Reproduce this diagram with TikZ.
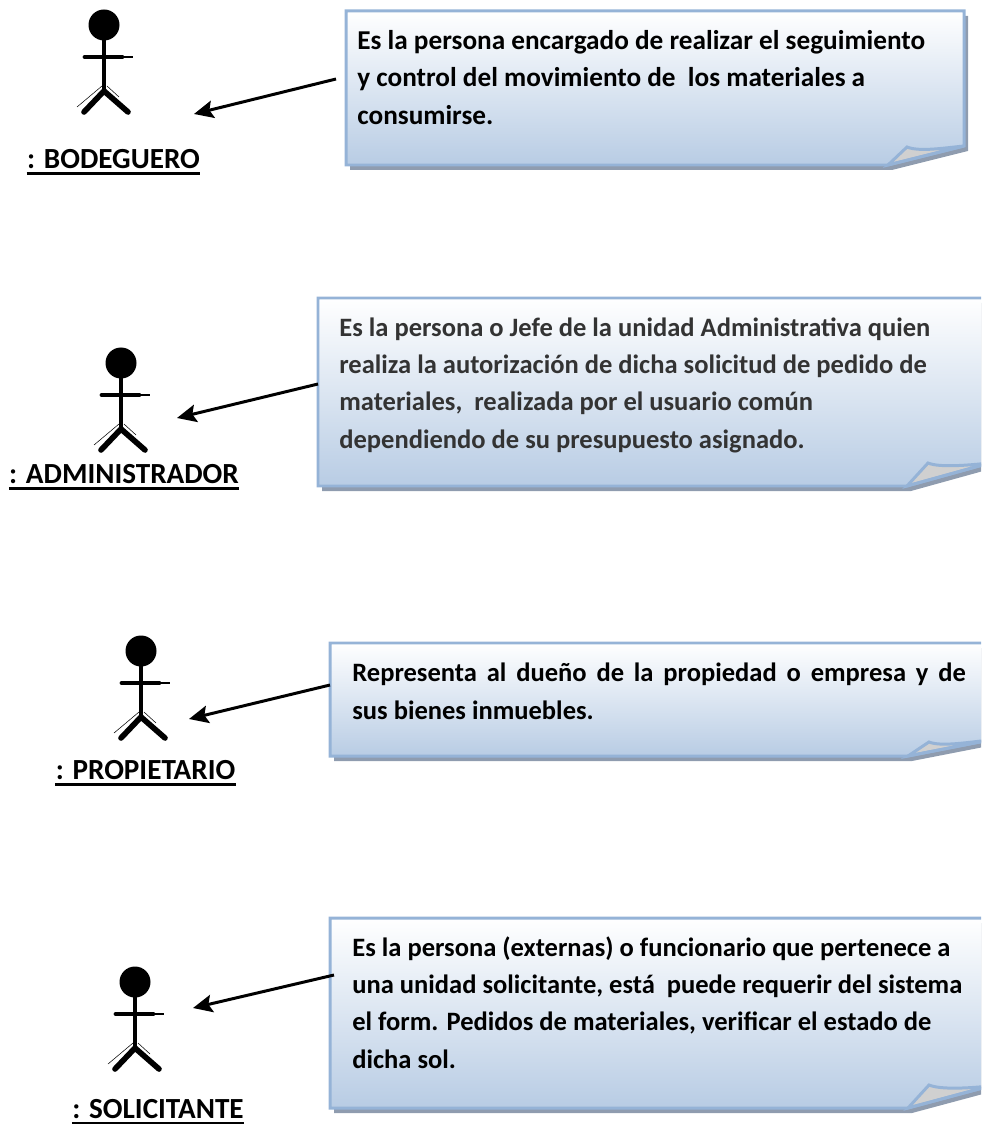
\documentclass[tikz,border=0pt]{standalone}
\usepackage{fontspec}
\setmainfont{Carlito}
\usepackage{tikz}
\usetikzlibrary{arrows.meta}
\definecolor{noteblue}{HTML}{B8CCE4}
\definecolor{noteline}{HTML}{95B3D7}
\definecolor{noteshadow}{HTML}{8F9CAF}
\definecolor{curlgray}{HTML}{D0D0D0}
\definecolor{notetext}{HTML}{333333}
\tikzset{
    actorlabel/.style={inner sep=0pt, text depth=0pt, font=\fontsize{16.6}{18}\selectfont\bfseries},
    notetxt/.style={anchor=north west, inner sep=0pt, align=left, font=\fontsize{15.5}{21.3}\selectfont\bfseries},
    notetxtsmall/.style={notetxt, font=\fontsize{15.1}{21.3}\selectfont\bfseries},
    pointer/.style={line width=1.7pt, -{Stealth[length=11pt,width=10pt,inset=2pt]}},
}
% head at (#1,#2)
\newcommand{\stickman}[2]{
    \fill (#1,#2) circle (15.5);
    \draw[line width=2.8pt] (#1,#2)--(#1,#2+66);
    \draw[line width=2.8pt, line cap=round] (#1-19,#2+32)--(#1+18,#2+32);
    \draw[line width=.9pt] (#1+18,#2+32)--(#1+29,#2+32);
    \draw[line width=3.2pt, line cap=round] (#1-20,#2+87)--(#1,#2+66)--(#1+24,#2+87);
    \draw[line width=.3pt] (#1-2,#2+61)--(#1-27,#2+82);
    \draw[line width=.3pt] (#1+3,#2+61)--(#1+15,#2+72);
}
% left, top, right, bottom, fold x, right corner y, curl x, curl y
\newcommand{\notebox}[8]{
    \fill[noteshadow] (#1+4,#2+5)--(#3+4,#2+5)--(#3+4,#6+5)--(#5+4,#4+5)--(#1+4,#4+5)--cycle;
    \shade[top color=white, bottom color=noteblue] (#1,#2)--(#3,#2)--(#3,#6)--(#5,#4)--(#1,#4)--cycle;
    \draw[noteline, line width=1.7pt, fill=curlgray] (#5,#4)--(#7,#8) .. controls (#7+12,#8+5) and (#3-20,#6+2) .. (#3,#6)--cycle;
    \draw[noteline, line width=1.7pt] (#1,#2)--(#3,#2)--(#3,#6)--(#5,#4)--(#1,#4)--cycle;
}

\begin{document}
\begin{tikzpicture}[x=0.02cm, y=-0.02cm]
    \useasboundingbox (0,0) rectangle (981,1124);
    \clip (0,0) rectangle (981,1124);

    \notebox{346}{11}{964}{165}{888}{146}{907}{147}
    \notebox{318}{298}{990}{486}{907}{463}{928}{463}
    \notebox{330}{643}{990}{756}{908}{740}{929}{742}
    \notebox{330}{918}{990}{1108}{908}{1086}{929}{1085}

    \stickman{104}{25}
    \stickman{121}{363}
    \stickman{141}{651}
    \stickman{135}{982}

    \node (bodeguero) at (113.5,159)[actorlabel] {: BODEGUERO};
    \node (administrador) at (124,474)[actorlabel] {: ADMINISTRADOR};
    \node (propietario) at (145.5,770)[actorlabel] {: PROPIETARIO};
    \node (solicitante) at (158,1109)[actorlabel] {: SOLICITANTE};
    \foreach \who in {bodeguero, administrador, propietario, solicitante}
        \draw[line width=1.7pt] ([yshift=-2.8pt]\who.south west)--([yshift=-2.8pt]\who.south east);

    \node (notaBodeguero) at (357,30)[notetxt] {Es la persona encargado de realizar el seguimiento\\y control del movimiento de\ \ los materiales a\\consumirse.};
    \node (notaAdministrador) at (339,317)[notetxtsmall, text=notetext] {Es la persona o Jefe de la unidad Administrativa quien\\realiza la autorización de dicha solicitud de pedido de\\materiales,\ \ realizada por el usuario común\\dependiendo de su presupuesto asignado.};
    \node (notaPropietario) at (352,663)[notetxtsmall, text width=616*0.5669pt, align=justify] {Representa al dueño de la propiedad o empresa y de\linebreak sus bienes inmuebles.};
    \node (notaSolicitante) at (352,936)[notetxtsmall] {Es la persona (externas) o funcionario que pertenece a\\una unidad solicitante, está\ \ puede requerir del sistema\\el form. Pedidos de materiales, verificar el estado de\\dicha sol.};

    \coordinate (colaBodeguero) at (336,79);
    \coordinate (puntaBodeguero) at (194,114);
    \coordinate (colaAdministrador) at (318,384);
    \coordinate (puntaAdministrador) at (177,418);
    \coordinate (colaPropietario) at (330,685);
    \coordinate (puntaPropietario) at (189,719);
    \coordinate (colaSolicitante) at (334,975);
    \coordinate (puntaSolicitante) at (193,1008);
    \draw[pointer] (colaBodeguero)--(puntaBodeguero);
    \draw[pointer] (colaAdministrador)--(puntaAdministrador);
    \draw[pointer] (colaPropietario)--(puntaPropietario);
    \draw[pointer] (colaSolicitante)--(puntaSolicitante);
\end{tikzpicture}
\end{document}
